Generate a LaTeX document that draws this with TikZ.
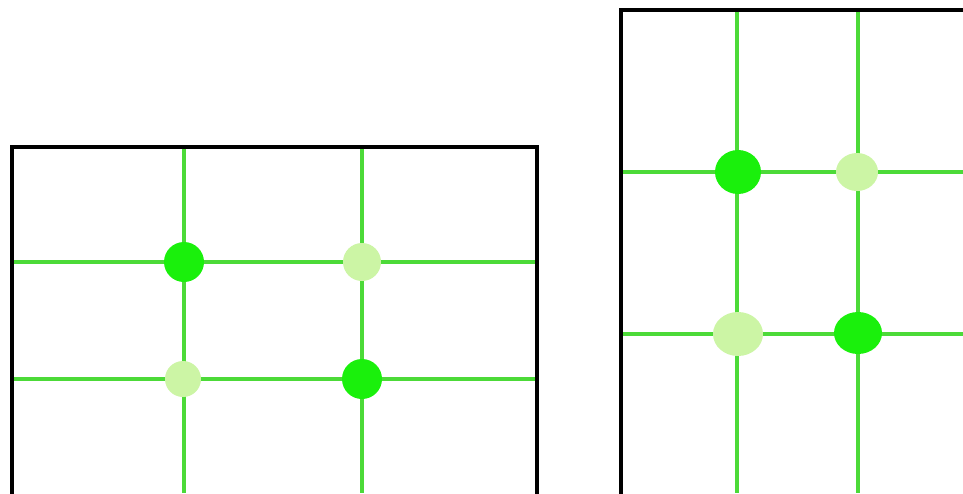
\documentclass[tikz,border=0pt]{standalone}
\usepackage{tikz}
\definecolor{raster}{RGB}{76,218,56}
\definecolor{kraeftig}{RGB}{26,240,12}
\definecolor{blass}{RGB}{204,245,165}

\begin{document}
\begin{tikzpicture}[x=1pt,y=-1pt,line width=3.3pt]
        \clip (0,0) rectangle (963,493);
        \fill[white] (0,0) rectangle (963,493);
        % landscape frame
        \foreach \gx in {184,362}{\draw[raster] (\gx,147) -- (\gx,493);}
        \foreach \gy in {262,379}{\draw[raster] (12,\gy) -- (537,\gy);}
        \draw[black,line width=3.8pt] (12,500) -- (12,147) -- (537,147) -- (537,500);
        \fill[kraeftig] (184,262) ellipse (20 and 20);
        \fill[blass] (362,262) ellipse (19 and 19);
        \fill[blass] (183,379) ellipse (18 and 18);
        \fill[kraeftig] (362,379) ellipse (20 and 20);
        % portrait frame
        \foreach \gx in {737,858}{\draw[raster] (\gx,10) -- (\gx,493);}
        \foreach \gy in {172,334}{\draw[raster] (621,\gy) -- (963,\gy);}
        \draw[black,line width=3.8pt] (621,500) -- (621,10) -- (970,10);
        \fill[kraeftig] (738,172) ellipse (23 and 22);
        \fill[blass] (857,172) ellipse (21 and 19);
        \fill[blass] (738,334) ellipse (25 and 22);
        \fill[kraeftig] (858,333) ellipse (24 and 21);
      \end{tikzpicture}
\end{document}
